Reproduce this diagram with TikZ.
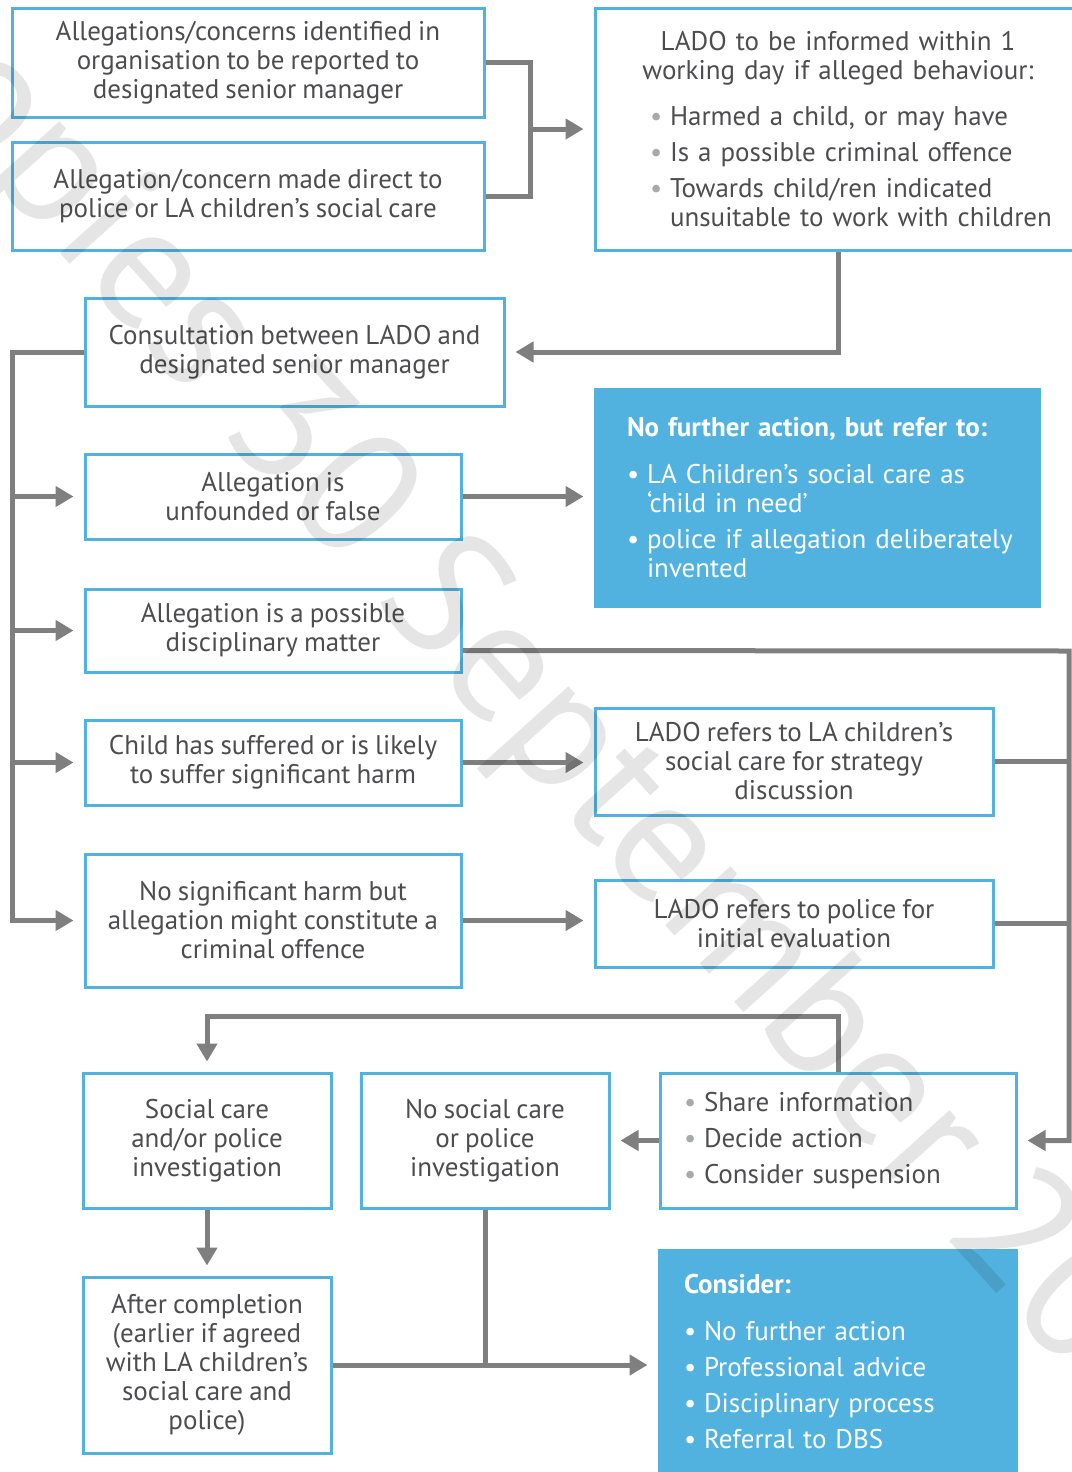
\documentclass[tikz,border=0pt]{standalone}
\usepackage{fontspec}
\setmainfont{PT Sans}[WordSpace=0.85]
\usetikzlibrary{arrows.meta}
\definecolor{boxblue}{HTML}{52B2DF}
\definecolor{linegray}{HTML}{7F7F7F}
\definecolor{textgray}{HTML}{4D4D4F}
\definecolor{dotgray}{HTML}{A7A9AC}
\newcommand{\itm}[2][dotgray]{\mbox{\makebox[10pt][l]{\textcolor{#1}{\textbullet}}#2}}
\newcommand{\cnt}[1]{\mbox{\hspace*{10pt}#1}}
\tikzset{
  box/.style={draw=boxblue, line width=1.5pt, text=textgray, align=center, inner sep=2pt},
  listbox/.style={box, align=left},
  bluebox/.style={fill=boxblue, draw=boxblue, line width=1.5pt, text=white, align=left},
  conn/.style={draw=linegray, line width=2.5pt},
  arr/.style={conn, -{Triangle[length=9pt,width=10pt]}, shorten >=5pt}
}
\begin{document}
\begin{tikzpicture}[x=0.5pt, y=-0.5pt, font=\fontsize{13.5}{14.5}\selectfont]
\useasboundingbox (0,0) rectangle (1071,1472);

\node[box, minimum width=236pt, minimum height=54.5pt] (b1) at (248,62.5) {Allegations/concerns identified in\\organisation to be reported to\\designated senior manager};
\node[box, minimum width=236pt, minimum height=54pt] (b2) at (248,196) {Allegation/concern made direct to\\police or LA children’s social care};
\node[listbox, minimum width=243pt, minimum height=121pt, text width=188pt] (lado) at (838,129) {\makebox[\linewidth]{LADO to be informed within 1}\\\makebox[\linewidth]{working day if alleged behaviour:}\\[8.5pt]
  \itm{Harmed a child, or may have}\\[3.5pt]
  \itm{Is a possible criminal offence}\\[3.5pt]
  \itm{Towards child/ren indicated}\\
  \cnt{unsuitable to work with children}};

\node[box, minimum width=209.5pt, minimum height=54pt] (consult) at (294.5,352) {Consultation between LADO and\\designated senior manager};

\node[box, minimum width=188pt, minimum height=42.5pt] (unfounded) at (273,496.5) {Allegation is\\unfounded or false};
\node[box, minimum width=188pt, minimum height=41.5pt] (disc) at (273,630.5) {Allegation is a possible\\disciplinary matter};
\node[box, minimum width=188pt, minimum height=42.5pt] (harm) at (273,762.5) {Child has suffered or is likely\\to suffer significant harm};
\node[box, minimum width=188pt, minimum height=66.5pt] (crim) at (273,920.5) {No significant harm but\\allegation might constitute a\\criminal offence};

\node[bluebox, minimum width=222pt, minimum height=108.5pt, text width=190pt] (nfa) at (817,497.5) {\textbf{No further action, but refer to:}\\[9pt]
  \itm[white]{LA Children’s social care as}\\
  \cnt{‘child in need’}\\[3.5pt]
  \itm[white]{police if allegation deliberately}\\
  \cnt{invented}};
\node[box, minimum width=199pt, minimum height=53.5pt] (strat) at (794,761.5) {LADO refers to LA children’s\\social care for strategy\\discussion};
\node[box, minimum width=199pt, minimum height=43.5pt] (police) at (794,923.5) {LADO refers to police for\\initial evaluation};

\node[box, minimum width=124pt, minimum height=67.5pt] (scinv) at (207,1140.5) {Social care\\and/or police\\investigation};
\node[box, minimum width=124pt, minimum height=67.5pt] (noinv) at (485,1140.5) {No social care\\or police\\investigation};
\node[listbox, minimum width=178pt, minimum height=67.5pt, text width=154pt] (share) at (838,1140.5) {\itm{Share information}\\[3.5pt]
  \itm{Decide action}\\[3.5pt]
  \itm{Consider suspension}};
\node[box, minimum width=124pt, minimum height=88pt] (after) at (207,1365) {After completion\\(earlier if agreed\\with LA children’s\\social care and\\police)};
\node[bluebox, minimum width=178.5pt, minimum height=112pt, text width=153.5pt] (consider) at (837.5,1362) {\textbf{Consider:}\\[9pt]
  \itm[white]{No further action}\\[3.5pt]
  \itm[white]{Professional advice}\\[3.5pt]
  \itm[white]{Disciplinary process}\\[3.5pt]
  \itm[white]{Referral to DBS}};

\coordinate (jn) at (530,129);
\coordinate (spine) at (12,352);
\coordinate (rail) at (1069,651);

\draw[conn] (b1.east) -| (jn) |- (b2.east);
\draw[arr] (jn) -- (jn -| lado.west);
\draw[arr] (lado.south) |- (consult.east);
\draw[arr] (consult.west) -- (spine) |- (crim.west);
\foreach \b in {unfounded,disc,harm}
  \draw[arr] (spine |- \b.west) -- (\b.west);
\draw[arr] (unfounded.east) -- (unfounded.east -| nfa.west);
\draw[arr] (harm.east) -- (harm.east -| strat.west);
\draw[arr] (crim.east) -- (crim.east -| police.west);
\draw[arr] ([yshift=-10pt]disc.east) -- (rail) |- (share.east);
\draw[conn] (strat.east) -- (strat.east -| rail);
\draw[conn] (police.east) -- (police.east -| rail);
\draw[arr] (share.north) -- ++(0,-55) -| (scinv.north);
\draw[arr] (share.west) -- (noinv.east);
\draw[arr] (scinv.south) -- (after.north);
\draw[arr] (after.east) -- (after.east -| consider.west);
\draw[conn] (noinv.south) -- (noinv.south |- after.east);

\node[rotate=-48, text=black, text opacity=0.1, font=\fontsize{88}{88}\selectfont] (mark) at (505,680) {copies 30 September 20};
\end{tikzpicture}
\end{document}
